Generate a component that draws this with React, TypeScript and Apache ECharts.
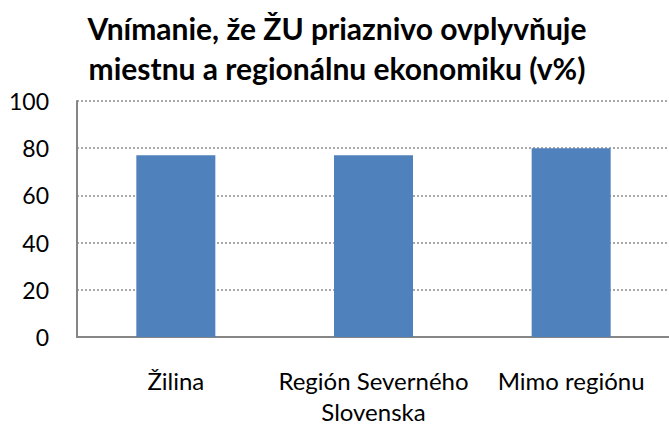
import React, { useEffect, useRef } from "react";
import * as echarts from "echarts";

const categories = ["Žilina", "Región Severného\nSlovenska", "Mimo regiónu"];
const values = [77, 77, 80];
const yTicks = [0, 20, 40, 60, 80, 100];
const titleLines = ["Vnímanie, že ŽU priaznivo ovplyvňuje", "miestnu a regionálnu ekonomiku (v%)"];

export default function App() {
  const ref = useRef<HTMLDivElement>(null);
  useEffect(() => {
    if (!ref.current) return;
    const chart = echarts.init(ref.current, null, { renderer: "svg" });
    const font = "Lato, 'Open Sans', sans-serif";
    chart.setOption({
      animation: false,
      backgroundColor: "#ffffff",
      title: {
        text: titleLines.join("\n"),
        left: 337,
        top: 8,
        padding: 0,
        textAlign: "center",
        textStyle: {
          fontFamily: font,
          fontSize: 30,
          fontWeight: "bold",
          color: "#000000",
          lineHeight: 40,
        },
      },
      grid: {
        left: 77,
        right: -1,
        top: 101,
        bottom: 88,
        outerBoundsMode: "none",
      },
      xAxis: {
        type: "category",
        data: categories,
        axisLine: { lineStyle: { color: "#868686", width: 2 } },
        axisTick: { show: false },
        axisLabel: {
          fontFamily: font,
          fontSize: 24,
          color: "#000000",
          margin: 28,
          lineHeight: 31,
          interval: 0,
        },
      },
      yAxis: {
        type: "value",
        min: yTicks[0],
        max: yTicks[yTicks.length - 1],
        interval: 20,
        axisLine: { show: true, lineStyle: { color: "#868686", width: 2 } },
        axisTick: { show: false },
        axisLabel: {
          fontFamily: font,
          fontSize: 23,
          color: "#000000",
          margin: 28,
        },
        splitLine: {
          show: true,
          lineStyle: { color: "#8c8c8c", width: 1.5, type: [2, 2] },
        },
      },
      series: [
        {
          type: "bar",
          data: values,
          barWidth: 79,
          itemStyle: { color: "#4F81BD" },
        },
      ],
    });
    return () => chart.dispose();
  }, []);
  return (
    <div
      ref={ref}
      style={{ position: "fixed", left: 0, top: 0, width: 669, height: 425 }}
    />
  );
}
